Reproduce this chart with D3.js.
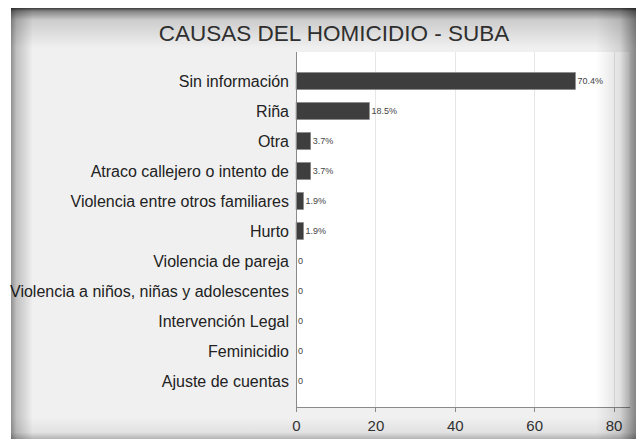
<!DOCTYPE html>
<html lang="es">
<head>
  <meta charset="utf-8">
  <title>Causas del homicidio - Suba</title>
  <script src="https://d3js.org/d3.v7.min.js"></script>
  <style>
    body { margin: 0; background: #fff; }
    svg { display: block; font-family: "Liberation Sans", Arial, sans-serif; }
    .grid line { stroke: #e6e6e6; stroke-width: 1; shape-rendering: crispEdges; }
    .grid path { display: none; }
    .axis path, .axis line { stroke: #8a8a8a; shape-rendering: crispEdges; }
    .axis text { fill: #333; font-size: 15px; }
    .cat { fill: #222; font-size: 16px; }
    .val { fill: #444; font-size: 9px; }
    rect.bar { fill: #3e3e3e; stroke: #8c8c8c; stroke-width: 0.6; }
  </style>
</head>
<body>
<div id="chart"></div>
<script>
  // data
  var categories = [
    "Sin información", "Riña", "Otra", "Atraco callejero o intento de",
    "Violencia entre otros familiares", "Hurto", "Violencia de pareja",
    "Violencia a niños, niñas y adolescentes", "Intervención Legal",
    "Feminicidio", "Ajuste de cuentas"
  ];
  var values = [70.4, 18.5, 3.7, 3.7, 1.9, 1.9, 0, 0, 0, 0, 0];
  var xTicks = [0, 20, 40, 60, 80];
  var title = "CAUSAS DEL HOMICIDIO - SUBA";

  var W = 640, H = 439;
  var svg = d3.select("#chart").append("svg")
    .attr("width", W)
    .attr("height", H);

  // panel with inner shading
  var panel = { x: 11, y: 8, w: 625, h: 431 };
  var defs = svg.append("defs");
  function grad(id, x1, y1, x2, y2, stops) {
    var g = defs.append("linearGradient").attr("id", id)
      .attr("x1", x1).attr("y1", y1).attr("x2", x2).attr("y2", y2);
    stops.forEach(function (s) {
      g.append("stop").attr("offset", s[0])
        .attr("stop-color", "#000").attr("stop-opacity", s[1]);
    });
  }
  grad("gTop", 0, 0, 0, 1, [[0, 0.75], [0.08, 0.45], [0.3, 0.15], [1, 0]]);
  grad("gLeft", 0, 0, 1, 0, [[0, 0.4], [0.25, 0.2], [1, 0]]);
  grad("gRight", 0, 0, 1, 0, [[0, 0], [0.6, 0.12], [1, 0.45]]);
  grad("gBottom", 0, 0, 0, 1, [[0, 0], [0.7, 0.06], [1, 0.25]]);

  svg.append("rect")
    .attr("x", panel.x).attr("y", panel.y)
    .attr("width", panel.w).attr("height", panel.h)
    .attr("fill", "#f0f0f0");

  // scales
  var x = d3.scaleLinear().domain([0, 84]).range([296, 629.5]);
  var y = d3.scaleBand().domain(categories).range([66, 396])
    .paddingInner(0.43).paddingOuter(0.215);

  var plotTop = 52, plotBottom = 407;

  // plot background
  svg.append("rect")
    .attr("x", x(0)).attr("y", plotTop)
    .attr("width", x.range()[1] - x(0))
    .attr("height", plotBottom - plotTop)
    .attr("fill", "#fff");

  // gridlines
  svg.append("g")
    .attr("class", "grid")
    .attr("transform", "translate(0," + plotTop + ")")
    .call(d3.axisBottom(x).tickValues(xTicks.slice(1)).tickSize(plotBottom - plotTop).tickFormat(""));

  // bars
  svg.selectAll("rect.bar")
    .data(values.filter(function (v) { return v > 0; }))
    .enter().append("rect")
    .attr("class", "bar")
    .attr("x", x(0))
    .attr("y", function (d, i) { return y(categories[i]); })
    .attr("width", function (d) { return x(d) - x(0); })
    .attr("height", y.bandwidth());

  // value labels
  svg.selectAll("text.val")
    .data(values)
    .enter().append("text")
    .attr("class", "val")
    .attr("x", function (d) { return x(d) + 2; })
    .attr("y", function (d, i) { return y(categories[i]) + y.bandwidth() / 2; })
    .attr("dy", "0.35em")
    .text(function (d) { return d > 0 ? d.toFixed(1) + "%" : "0"; });

  // category labels
  svg.selectAll("text.cat")
    .data(categories)
    .enter().append("text")
    .attr("class", "cat")
    .attr("x", x(0) - 7)
    .attr("y", function (d) { return y(d) + y.bandwidth() / 2; })
    .attr("dy", "0.35em")
    .attr("text-anchor", "end")
    .text(function (d) { return d; });

  // axes
  svg.append("g")
    .attr("class", "axis")
    .attr("transform", "translate(0," + plotBottom + ")")
    .call(d3.axisBottom(x).tickValues(xTicks).tickSize(5).tickSizeOuter(0).tickPadding(8));

  svg.append("line")
    .attr("x1", x(0)).attr("x2", x(0))
    .attr("y1", plotTop).attr("y2", plotBottom)
    .attr("stroke", "#8a8a8a")
    .attr("shape-rendering", "crispEdges");

  // title
  svg.append("text")
    .attr("x", 334).attr("y", 41)
    .attr("text-anchor", "middle")
    .attr("fill", "#333")
    .attr("font-size", "22.5px")
    .text(title);

  // edge shading on top of everything
  svg.append("rect").attr("x", panel.x).attr("y", panel.y)
    .attr("width", panel.w).attr("height", 40).attr("fill", "url(#gTop)");
  svg.append("rect").attr("x", panel.x).attr("y", panel.y)
    .attr("width", 22).attr("height", panel.h).attr("fill", "url(#gLeft)");
  svg.append("rect").attr("x", panel.x + panel.w - 40).attr("y", panel.y)
    .attr("width", 40).attr("height", panel.h).attr("fill", "url(#gRight)");
  svg.append("rect").attr("x", panel.x).attr("y", panel.y + panel.h - 22)
    .attr("width", panel.w).attr("height", 22).attr("fill", "url(#gBottom)");
</script>
</body>
</html>
